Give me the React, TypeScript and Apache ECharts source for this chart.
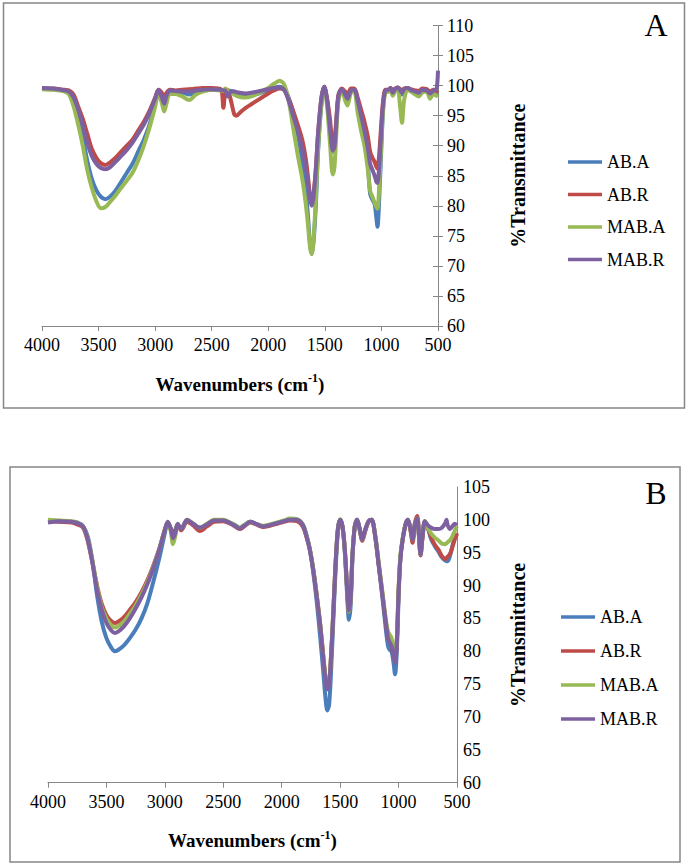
import React, { useEffect, useRef } from "react";
import * as echarts from "echarts";

const SERIF = "'Liberation Serif', 'Times New Roman', serif";
const NAMES = ["AB.A", "AB.R", "MAB.A", "MAB.R"];
const COLORS = ["#4A7EBB", "#BE4B48", "#98B954", "#7D60A0"];
const X_TICKS = [4000, 3500, 3000, 2500, 2000, 1500, 1000, 500];

// ---------- Panel A ----------
const wA = [
  4000, 3900, 3800, 3760, 3720, 3680, 3640, 3600, 3560, 3520,
  3480, 3440, 3400, 3350, 3300, 3250, 3200, 3150, 3100, 3050,
  3000, 2970, 2940, 2920, 2900, 2870, 2820, 2760, 2700, 2640,
  2580, 2500, 2420, 2397, 2380, 2360, 2330, 2300, 2280, 2250,
  2200, 2150, 2100, 2050, 2000, 1950, 1900, 1860, 1820, 1780,
  1740, 1700, 1670, 1650, 1630, 1615, 1600, 1580, 1560, 1530,
  1505, 1480, 1455, 1430, 1415, 1400, 1380, 1350, 1320, 1300,
  1270, 1240, 1210, 1180, 1150, 1120, 1100, 1080, 1060, 1045,
  1035, 1020, 1000, 985, 965, 940, 920, 900, 880, 855,
  835, 818, 800, 770, 740, 700, 670, 640, 600, 570,
  540, 515, 500,
];
const abA_A = [
  99.6, 99.4, 99.2, 98.8, 97.5, 95, 91.5, 87.5, 84.5, 82.6,
  81.5, 81.1, 81.5, 82.5, 84, 85.5, 87, 89, 91, 93.5,
  97, 99, 98, 96.8, 97.8, 99, 98.8, 98.8, 98.5, 99,
  99.2, 99.3, 99.3, 99.2, 99.3, 99.2, 99.1, 99, 98.8, 98.6,
  98.4, 98.4, 98.6, 98.9, 99.2, 99.6, 99.8, 99.5, 98, 95.5,
  92, 87.5, 83, 78.5, 73.5, 72, 74, 80, 89, 97,
  99.8, 97.5, 93, 89, 89.5, 93, 98, 99.4, 98.6, 97.8,
  99.2, 99.3, 97, 94.5, 91.5, 87, 82, 81, 80.3, 78,
  76.5, 81, 90, 96, 99, 99, 99.5, 98.8, 99.3, 99.6,
  99, 98.5, 99.3, 99.6, 99.3, 99, 98.7, 99.2, 99.3, 98.8,
  99.2, 98.5, 98.2,
];
const abR_A = [
  99.5, 99.5, 99.3, 99.2, 98.5, 96.5, 94.5, 92, 89.5, 88,
  87.1, 86.8, 87.2, 88, 89, 90, 91, 92.5, 94, 95.8,
  98, 99.3, 98.8, 98, 98.8, 99.3, 99.2, 99.3, 99.4, 99.5,
  99.6, 99.6, 99.4, 96.3, 99, 99.3, 97.5, 95.2, 95, 95.5,
  96.3, 96.9, 97.5, 98.1, 98.7, 99.2, 99.5, 99.3, 97.8, 95.8,
  93.5, 91, 88, 85, 81.5, 80.5, 82, 86, 92, 98,
  99.8, 97.8, 94.5, 90.5, 91, 94, 98.5, 99.5, 99, 98.5,
  99.5, 99.5, 98, 96, 94, 91.5, 89, 88, 87.3, 86.5,
  86.2, 88.5, 94, 97.5, 99.3, 99.3, 99.6, 99.3, 99.5, 99.7,
  99.4, 99.2, 99.5, 99.6, 99.4, 99.2, 99.1, 99.5, 99.4, 99,
  99.3, 99, 99.2,
];
const mabA_A = [
  99.4, 99.3, 99, 98.5, 96.5, 93.5, 90, 86, 83, 80.8,
  79.6, 79.8, 80.6, 81.7, 83, 84.2, 85.5, 87.5, 90, 93,
  96.5, 98.8, 97, 95.7, 97, 98.6, 98.6, 98.2, 97.6, 98.5,
  99, 99.3, 99.2, 99.1, 99.5, 99.2, 98.8, 98.5, 98.3, 98.1,
  98, 98.2, 98.6, 99.1, 99.6, 100.3, 100.8, 100.2, 97.5, 93,
  88.5, 84.5, 80.5, 77, 73, 72, 74.5, 81, 89.5, 97,
  99.6, 96.5, 90.5, 85.2, 86.5, 91.5, 97.5, 99.2, 97.5, 96.7,
  98.8, 99, 95.5, 92.5, 90, 86, 82.5, 81.5, 80.5, 79.8,
  79.5, 83, 91, 96, 98.8, 99, 99.2, 98.3, 99, 99.3,
  96.5, 93.8, 97.5, 99.3, 99, 98.5, 98.2, 98.8, 99, 97.8,
  98.6, 98.3, 98.5,
];
const mabR_A = [
  99.6, 99.5, 99.2, 99, 98, 96, 93.5, 90.5, 88.3, 87,
  86.3, 86.1, 86.4, 87.3, 88.3, 89.3, 90.5, 92, 93.5, 95.5,
  97.8, 99.3, 98, 97, 98.3, 99.2, 99.1, 99, 99, 99.2,
  99.3, 99.4, 99.3, 99.2, 99.2, 98.2, 99, 99, 98.9, 98.8,
  98.7, 98.8, 99, 99.2, 99.4, 99.6, 99.7, 99.3, 97.5, 95,
  92.5, 89.5, 86.5, 84, 81, 80, 81.5, 86, 92, 98,
  99.8, 97.5, 93, 89.2, 89.8, 93.5, 98.3, 99.4, 98.5, 97.8,
  99.2, 99.3, 97.5, 95, 92.5, 89.5, 87, 86, 85, 84,
  83.8, 86.5, 93, 97, 99.2, 99.3, 99.6, 98.8, 99.4, 99.7,
  99.2, 98.8, 99.4, 99.6, 99.3, 99, 98.8, 99.3, 99.2, 98.7,
  99.2, 99.3, 102.5,
];

// ---------- Panel B ----------
const wB = [
  4000, 3900, 3800, 3750, 3700, 3660, 3620, 3580, 3540, 3500,
  3460, 3430, 3400, 3350, 3300, 3250, 3200, 3150, 3100, 3050,
  3000, 2975, 2950, 2930, 2910, 2890, 2860, 2810, 2760, 2700,
  2640, 2580, 2500, 2440, 2400, 2360, 2320, 2270, 2220, 2160,
  2100, 2040, 1980, 1930, 1870, 1820, 1790, 1760, 1730, 1700,
  1670, 1645, 1625, 1610, 1595, 1580, 1560, 1540, 1520, 1500,
  1480, 1460, 1440, 1425, 1410, 1395, 1375, 1355, 1335, 1310,
  1285, 1255, 1230, 1200, 1170, 1140, 1110, 1090, 1075, 1060,
  1045, 1030, 1015, 1000, 985, 965, 940, 920, 900, 880,
  860, 840, 825, 812, 795, 775, 750, 720, 690, 660,
  630, 600, 590, 580, 560, 540, 520, 500,
];
const abA_B = [
  99.8, 99.8, 99.7, 99.6, 99, 97.5, 93.8, 88.5, 84.5, 82,
  80.6, 80, 80.2, 80.9, 82, 83.3, 85, 87.3, 90.5, 94,
  98, 99.6, 98.8, 97.8, 98.5, 99.3, 98.6, 99.9, 99.4, 98.8,
  99.3, 99.9, 99.9, 99.5, 99.2, 98.8, 99.2, 99.7, 99.4, 99,
  99.2, 99.5, 99.8, 100, 100, 99.3, 97.8, 95.5, 92, 87.5,
  82, 77, 72.8, 71, 71.8, 76, 84, 92, 98, 100,
  99, 95, 88.5, 84.8, 87, 94, 99, 100, 98.8, 97,
  98.5, 99.8, 100, 97.5, 93, 88.5, 83.5, 80.8, 80.2, 80,
  78.5, 76.5, 80, 88, 94, 97, 99.3, 100, 98.8, 97,
  99.3, 100.2, 97.5, 94.6, 97.5, 99.8, 98.8, 97, 96, 95.2,
  94.3, 93.8, 93.7, 93.7, 94.5, 96, 97.2, 97.8,
];
const abR_B = [
  99.8, 99.7, 99.6, 99.3, 98.8, 96.8, 93.5, 90, 87.2, 85.5,
  84.6, 84.3, 84.5, 85.2, 86.3, 87.5, 89, 90.8, 93, 95.5,
  98.5, 99.6, 98.6, 97.5, 98.3, 99.2, 98.4, 99.7, 99.2, 98.3,
  99, 99.7, 99.8, 99.4, 99, 98.6, 99, 99.6, 99.3, 98.9,
  99.1, 99.4, 99.7, 99.9, 99.8, 99, 97.5, 95.5, 92.5, 88.5,
  84, 79.5, 76, 74.5, 75, 78.5, 85.5, 93, 98.5, 100,
  99, 95.5, 89.5, 86, 88, 94.5, 99, 100, 98.6, 96.8,
  98.3, 99.8, 100, 97.5, 93.2, 89, 84.5, 82, 81.5, 81,
  79.5, 78.5, 81.5, 89, 94, 97, 99.3, 100, 98.6, 96.5,
  99.5, 100.6, 97.5, 94.6, 97.3, 99.7, 98.8, 97.3, 96.2, 95.5,
  94.5, 94, 94.2, 94.4, 94.8, 95.8, 97, 98,
];
const mabA_B = [
  100, 99.9, 99.8, 99.6, 99, 97.2, 93.8, 89.8, 86.7, 85,
  84, 83.6, 83.8, 84.5, 85.7, 87, 88.6, 90.5, 92.8, 95.4,
  98.5, 99.7, 98.3, 96.3, 97.6, 99.3, 98.7, 100, 99.5, 98.8,
  99.4, 100, 100, 99.6, 99.2, 98.8, 99.2, 99.7, 99.4, 99.1,
  99.3, 99.6, 99.9, 100.2, 100.1, 99.3, 97.8, 95.7, 92.5, 88.5,
  84, 79.3, 75.7, 74.5, 75.2, 78.7, 85.5, 93, 98.5, 100.1,
  99, 95.5, 89.5, 86, 88, 94.5, 99, 100, 98.8, 97,
  98.5, 99.8, 100, 97.8, 93.5, 89.3, 85, 83, 82.5, 82,
  80.5, 79.2, 82, 89.5, 94.5, 97.2, 99.4, 100, 98.8, 97,
  99.4, 100.2, 97.5, 94.8, 97.6, 99.8, 98.8, 97.9, 97.3, 96.9,
  96.4, 96.3, 96.4, 96.6, 96.9, 97.5, 98.3, 99,
];
const mabR_B = [
  99.6, 99.8, 99.7, 99.5, 99, 97, 93.5, 89.3, 86.3, 84.3,
  83.2, 82.8, 83, 83.8, 85, 86.5, 88.2, 90.2, 92.6, 95.3,
  98.5, 99.7, 98.6, 97.2, 98, 99.4, 98.6, 100, 99.4, 98.8,
  99.3, 99.9, 99.9, 99.5, 99.1, 98.7, 99.1, 99.7, 99.4, 99,
  99.2, 99.5, 99.8, 100, 100, 99.2, 97.6, 95.5, 92.3, 88.3,
  83.8, 79, 75.5, 74.2, 75, 78.5, 85.3, 93, 98.5, 100,
  99, 95.5, 89.5, 86.2, 88.2, 94.5, 99, 100, 98.8, 97,
  98.5, 99.8, 100, 97.5, 93.2, 88.8, 84.5, 82, 81.3, 80.8,
  79.5, 78.2, 81.3, 89, 94, 97, 99.3, 100, 98.8, 97,
  99.4, 100.2, 97.5, 94.8, 97.5, 99.8, 99.2, 98.8, 98.6, 98.6,
  98.8, 99.5, 100, 99.2, 98.6, 99, 99.4, 99.2,
];

const Y_A = { min: 60, max: 110, step: 5 };
const Y_B = { min: 60, max: 105, step: 5 };

const seriesA = [abA_A, abR_A, mabA_A, mabR_A];
const seriesB = [abA_B, abR_B, mabA_B, mabR_B];

const plain = (v: number) => String(v);

function xAxisFor(gridIndex: number) {
  return {
    gridIndex,
    type: "value",
    min: X_TICKS[X_TICKS.length - 1],
    max: X_TICKS[0],
    interval: 500,
    inverse: true,
    name: "{a|Wavenumbers (cm}{b|-1}{a|)}",
    nameLocation: "middle",
    nameGap: 46,
    nameTextStyle: {
      rich: {
        a: { fontFamily: SERIF, fontSize: 19, fontWeight: "bold", color: "#000", lineHeight: 24 },
        b: { fontFamily: SERIF, fontSize: 12, fontWeight: "bold", color: "#000", verticalAlign: "top", lineHeight: 24, padding: [0, 0, 10, 0] },
      },
    },
    axisLine: { show: true, lineStyle: { color: "#868686", width: 1 } },
    axisTick: { show: true, inside: false, length: 5, lineStyle: { color: "#868686" } },
    axisLabel: { color: "#000", fontFamily: SERIF, fontSize: 18, margin: 10, formatter: plain },
    splitLine: { show: false },
  };
}

export default function App() {
  const ref = useRef<HTMLDivElement>(null);
  useEffect(() => {
    if (!ref.current) return;
    const chart = echarts.init(ref.current, undefined, { renderer: "svg" });
    const mk = (vals: number[][], ws: number[], xi: number) =>
      vals.map((arr, k) => ({
        name: NAMES[k],
        type: "line",
        xAxisIndex: xi,
        yAxisIndex: xi,
        data: ws.map((w, i) => [w, arr[i]]),
        showSymbol: false,
        symbol: "none",
        smooth: 0.3,
        lineStyle: { color: COLORS[k], width: 4 },
        itemStyle: { color: COLORS[k] },
        z: 2 + k,
      }));
    const legendBase = {
      data: NAMES,
      orient: "vertical",
      icon: "rect",
      itemWidth: 34,
      itemHeight: 3.5,
      selectedMode: false,
      textStyle: { fontFamily: SERIF, fontSize: 18, color: "#000", lineHeight: 18 },
    };
    chart.setOption({
      animation: false,
      textStyle: { fontFamily: SERIF },
      grid: [
        { left: 42, top: 25.5, width: 396, height: 300.5 },
        { left: 48, top: 487, width: 409, height: 295.7 },
      ],
      xAxis: [xAxisFor(0), xAxisFor(1)],
      yAxis: [
        {
          gridIndex: 0,
          type: "value",
          position: "right",
          min: Y_A.min,
          max: Y_A.max,
          interval: Y_A.step,
          name: "%Transmittance",
          nameLocation: "middle",
          nameRotate: 90,
          nameGap: 70,
          nameTextStyle: { fontFamily: SERIF, fontSize: 20, fontWeight: "bold", color: "#000" },
          axisLine: { show: true, lineStyle: { color: "#868686", width: 1 } },
          axisTick: { show: true, inside: false, length: 5, lineStyle: { color: "#868686" } },
          axisLabel: { color: "#000", fontFamily: SERIF, fontSize: 18, margin: 9, formatter: plain },
          splitLine: { show: false },
        },
        {
          gridIndex: 1,
          type: "value",
          position: "right",
          min: Y_B.min,
          max: Y_B.max,
          interval: Y_B.step,
          name: "%Transmittance",
          nameLocation: "middle",
          nameRotate: 90,
          nameGap: 51,
          nameTextStyle: { fontFamily: SERIF, fontSize: 20, fontWeight: "bold", color: "#000" },
          axisLine: { show: true, lineStyle: { color: "#868686", width: 1 } },
          axisTick: { show: false },
          axisLabel: { color: "#000", fontFamily: SERIF, fontSize: 18, margin: 6, formatter: plain },
          splitLine: { show: false },
        },
        {
          gridIndex: 0,
          type: "value",
          position: "right",
          min: Y_A.min,
          max: Y_A.max,
          interval: Y_A.step,
          axisLine: { show: false },
          axisTick: { show: true, inside: true, length: 5, lineStyle: { color: "#868686" } },
          axisLabel: { show: false },
          splitLine: { show: false },
        },
      ],
      legend: [
        { ...legendBase, left: 563, top: 148, itemGap: 14.5 },
        { ...legendBase, left: 556, top: 603, itemGap: 16 },
      ],
      graphic: [
        { type: "rect", shape: { x: 3.5, y: 3, width: 681, height: 405 }, style: { fill: "none", stroke: "#868686", lineWidth: 1.5 }, silent: true },
        { type: "rect", shape: { x: 10, y: 467, width: 670, height: 395 }, style: { fill: "none", stroke: "#868686", lineWidth: 1.5 }, silent: true },
        { type: "text", x: 656, y: 25, style: { text: "A", fontFamily: SERIF, fontSize: 32, fill: "#000", align: "center", verticalAlign: "middle" } },
        { type: "text", x: 656, y: 493, style: { text: "B", fontFamily: SERIF, fontSize: 32, fill: "#000", align: "center", verticalAlign: "middle" } },
      ],
      series: [...mk(seriesA, wA, 0), ...mk(seriesB, wB, 1)],
    });
    return () => chart.dispose();
  }, []);
  return (
    <div
      ref={ref}
      style={{ position: "absolute", left: 0, top: 0, width: 688, height: 866, background: "#fff" }}
    />
  );
}
